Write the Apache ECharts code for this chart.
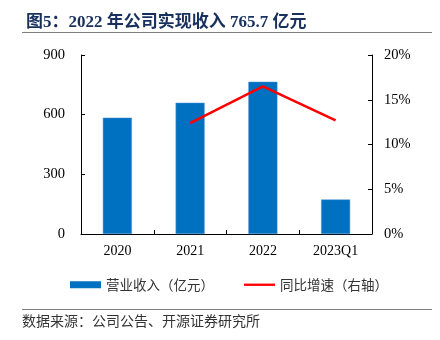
<!DOCTYPE html>
<html><head><meta charset="utf-8">
<script src="https://cdn.jsdelivr.net/npm/echarts@6/dist/echarts.min.js"></script>
<style>html,body{margin:0;padding:0;background:#fff}#c{width:440px;height:340px}</style>
</head><body><div id="c"></div>
<script>
const categories = ['2020', '2021', '2022', '2023Q1'];
const revenue = [585, 660, 765.7, 174];
const growth = [null, 12.4, 16.5, 12.7];
const leftTicks = [0, 300, 600, 900];
const rightTicks = [0, 5, 10, 15, 20];
const FONT = '"Liberation Serif", "Noto Sans CJK SC", serif';
const chart = echarts.init(document.getElementById('c'));
chart.setOption({
  animation: false,
  title: {
    text: '图5：2022 年公司实现收入 765.7 亿元',
    left: 21, top: 9,
    textStyle: { fontSize: 17, fontWeight: 'bold', color: '#17305E', fontFamily: '"Liberation Serif", "Noto Sans CJK SC", serif' }
  },
  graphic: [
    { type: 'line', shape: { x1: 22, y1: 32.5, x2: 432, y2: 32.5 }, style: { stroke: '#7f7f7f', lineWidth: 1 } },
    { type: 'line', shape: { x1: 22, y1: 309.5, x2: 432, y2: 309.5 }, style: { stroke: '#7f7f7f', lineWidth: 1 } },
    { type: 'text', left: 22, top: 314, style: { text: '数据来源：公司公告、开源证券研究所', fontSize: 14, fill: '#333', fontFamily: '"Noto Sans CJK SC", sans-serif' } }
  ],
  legend: {
    top: 278, left: 70, padding: 0, itemGap: 30,
    textStyle: { fontSize: 13.5, color: '#333', fontFamily: '"Noto Sans CJK SC", sans-serif' },
    data: [
      { name: '营业收入（亿元）', icon: 'rect', itemStyle: { color: '#0070C0', borderWidth: 0 } },
      { name: '同比增速（右轴）', icon: 'path://M0,0 L40,0 L40,3 L0,3 Z', itemStyle: { color: '#FF0000' } }
    ],
    itemWidth: 31, itemHeight: 7
  },
  grid: { left: 81, right: 68, top: 55, bottom: 106 },
  xAxis: {
    type: 'category', data: categories,
    axisLine: { lineStyle: { color: '#000', width: 1 } },
    axisTick: { show: true, inside: true, length: 4, lineStyle: { color: '#000' } },
    axisLabel: { fontSize: 14, color: '#000', fontFamily: FONT, margin: 10 }
  },
  yAxis: [
    { type: 'value', min: leftTicks[0], max: leftTicks[leftTicks.length - 1], interval: 300,
      axisLine: { show: true, lineStyle: { color: '#000' } },
      axisTick: { show: true, inside: true, length: 4, lineStyle: { color: '#000' } },
      splitLine: { show: false },
      axisLabel: { fontSize: 14.5, color: '#000', fontFamily: FONT, margin: 16 } },
    { type: 'value', min: rightTicks[0], max: rightTicks[rightTicks.length - 1], interval: 5,
      axisLine: { show: true, lineStyle: { color: '#000' } },
      axisTick: { show: true, inside: true, length: 4, lineStyle: { color: '#000' } },
      splitLine: { show: false },
      axisLabel: { fontSize: 14.5, color: '#000', fontFamily: FONT, margin: 12, formatter: '{value}%' } }
  ],
  series: [
    { name: '营业收入（亿元）', type: 'bar', data: revenue, barWidth: '40%',
      itemStyle: { color: '#0070C0', borderColor: '#5b9bd5', borderWidth: 0.5 } },
    { name: '同比增速（右轴）', type: 'line', yAxisIndex: 1, data: growth,
      symbol: 'none', lineStyle: { color: '#FF0000', width: 2.5 }, itemStyle: { color: '#FF0000' } }
  ]
});
</script></body></html>
